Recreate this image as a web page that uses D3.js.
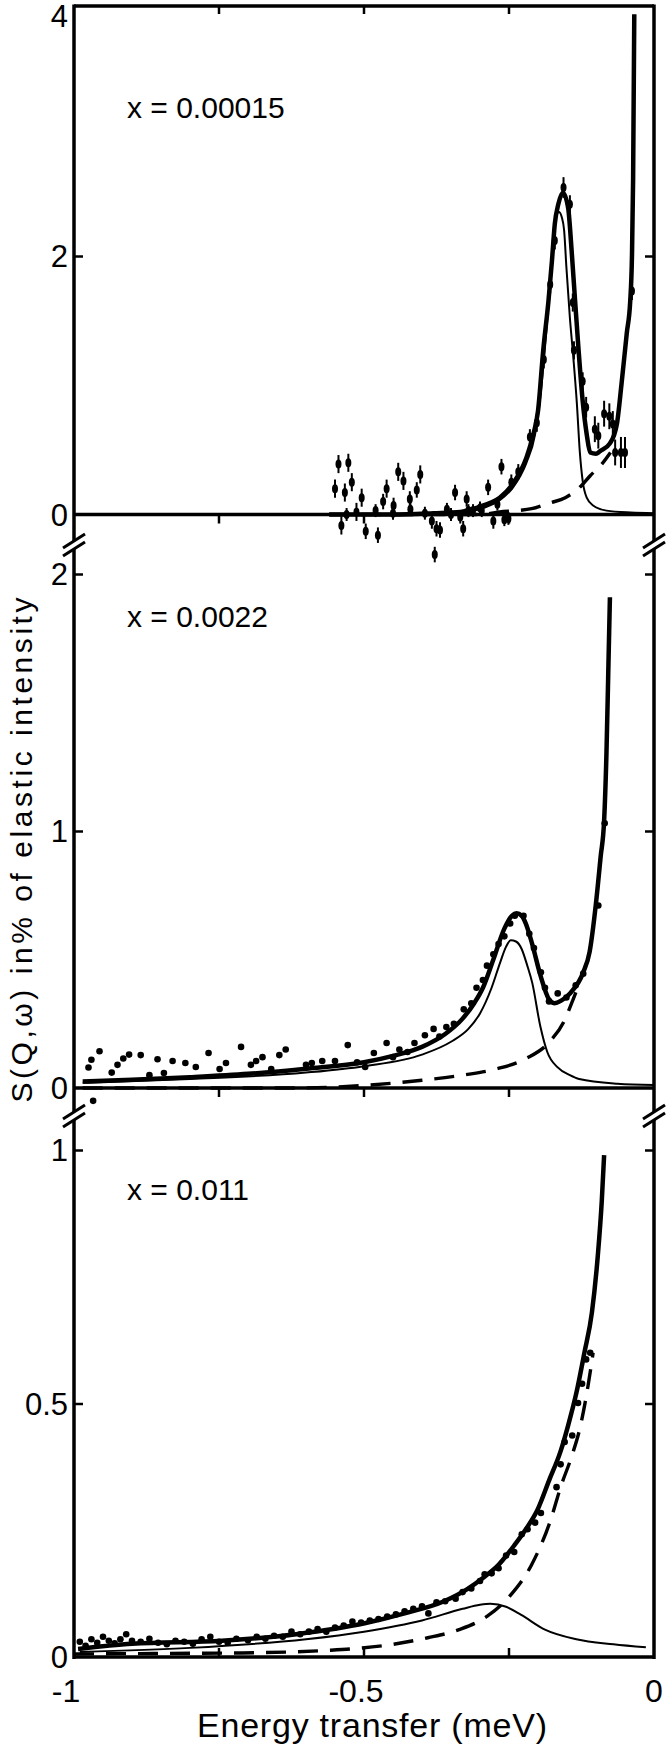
<!DOCTYPE html>
<html>
<head>
<meta charset="utf-8">
<script src="https://cdn.jsdelivr.net/npm/d3@7"></script>
<style>
body { margin: 0; background: #fff; }
svg { display: block; }
text { font-family: "Liberation Sans", Arial, sans-serif; fill: #000; }
</style>
</head>
<body>
<script>
// energy axis (meV)
var xTicks = [-1, -0.5, 0];
var xTickLabels = ["-1", "-0.5", "0"];
var xMinorTicks = [-0.75, -0.5, -0.25];

var panelLabels = ["x = 0.00015", "x = 0.0022", "x = 0.011"];
var yTicks1 = [0, 2, 4];
var yTicks2 = [0, 1, 2];
var yTicks3 = [0, 0.5, 1];

// x = 0.00015 : total fit, inelastic peak, quasielastic, data [E, S, err]
var fit1 = [[-0.56,0],[-0.45,0],[-0.38,0.01],[-0.334,0.02],[-0.294,0.07],[-0.266,0.13],[-0.243,0.24],
  [-0.22,0.44],[-0.208,0.62],[-0.2,0.8],[-0.191,1.27],[-0.182,1.65],[-0.176,1.96],[-0.171,2.25],
  [-0.165,2.4],[-0.157,2.49],[-0.148,2.37],[-0.142,2.04],[-0.136,1.65],[-0.13,1.27],[-0.123,0.88],
  [-0.116,0.62],[-0.11,0.48],[-0.1,0.47],[-0.093,0.49],[-0.076,0.55],[-0.064,0.7],[-0.056,1.01],
  [-0.047,1.4],[-0.041,1.65],[-0.038,2.0],[-0.036,2.6],[-0.034,3.87]];
var peak1 = [[-0.56,0],[-0.4,0],[-0.334,0.015],[-0.294,0.05],[-0.266,0.11],[-0.243,0.21],[-0.22,0.4],
  [-0.205,0.62],[-0.195,0.95],[-0.186,1.4],[-0.179,1.8],[-0.174,2.1],[-0.169,2.3],[-0.164,2.34],
  [-0.159,2.3],[-0.155,2.2],[-0.151,1.91],[-0.145,1.52],[-0.139,1.21],[-0.133,0.86],[-0.128,0.49],
  [-0.123,0.26],[-0.116,0.13],[-0.105,0.07],[-0.082,0.03],[-0.04,0.015],[0,0.01]];
var quasi1 = [[-0.56,0],[-0.3,0],[-0.266,0.02],[-0.237,0.03],[-0.211,0.045],[-0.179,0.09],
  [-0.153,0.13],[-0.128,0.21],[-0.11,0.3],[-0.09,0.39],[-0.075,0.48]];
var data1 = [[-0.55,0.2,0.07],[-0.544,0.39,0.07],[-0.539,-0.085,0.07],[-0.533,0.17,0.07],
  [-0.527,0.4,0.07],[-0.521,0.25,0.07],[-0.513,0.02,0.07],[-0.504,0.13,0.07],[-0.497,-0.13,0.06],
  [-0.476,-0.16,0.06],[-0.467,0.1,0.06],[-0.461,0.2,0.07],[-0.449,0.07,0.06],[-0.441,0.33,0.07],
  [-0.432,0.26,0.07],[-0.421,0.12,0.06],[-0.409,0.19,0.06],[-0.403,0.31,0.07],[-0.395,0.01,0.05],
  [-0.383,-0.05,0.06],[-0.378,-0.31,0.06],[-0.375,-0.11,0.06],[-0.369,-0.12,0.06],[-0.357,0.04,0.05],
  [-0.343,0.17,0.06],[-0.334,-0.02,0.05],[-0.329,-0.11,0.06],[-0.323,0.12,0.06],[-0.312,0.03,0.05],
  [-0.297,0.03,0.05],[-0.286,0.21,0.06],[-0.277,-0.05,0.06],[-0.263,0.37,0.06],[-0.258,-0.04,0.05],
  [-0.251,-0.03,0.05],[-0.246,0.25,0.06],[-0.234,0.33,0.06],[-0.214,0.6,0.06],[-0.202,0.71,0.07],
  [-0.19,1.2,0.07],[-0.179,1.78,0.07],[-0.171,2.12,0.07],[-0.156,2.53,0.08],[-0.145,2.4,0.07],
  [-0.14,1.64,0.07],[-0.138,1.27,0.07],[-0.123,1.03,0.07],[-0.117,0.83,0.08],[-0.102,0.66,0.1],
  [-0.096,0.61,0.1],[-0.086,0.78,0.1],[-0.077,0.76,0.1],[-0.071,0.7,0.1],[-0.067,0.48,0.1],
  [-0.057,0.48,0.12],[-0.05,0.48,0.12],[-0.038,1.73,0.07],
  [-0.53,0,0.05],[-0.48,0.03,0.05],[-0.45,0.01,0.05],[-0.42,0.04,0.05],[-0.35,0,0.05],
  [-0.32,0.03,0.05],[-0.3,0.05,0.05],[-0.27,0.08,0.05]];

// x = 0.0022
var fit2 = [[-0.985,0.025],[-0.9,0.032],[-0.8,0.042],[-0.7,0.055],[-0.6,0.075],[-0.5,0.1],
  [-0.45,0.125],[-0.4,0.16],[-0.36,0.21],[-0.33,0.27],[-0.31,0.33],[-0.295,0.39],[-0.277,0.5],
  [-0.258,0.62],[-0.245,0.67],[-0.237,0.68],[-0.228,0.67],[-0.221,0.64],[-0.21,0.56],[-0.196,0.44],
  [-0.181,0.345],[-0.172,0.33],[-0.16,0.34],[-0.144,0.37],[-0.122,0.45],[-0.111,0.53],[-0.1,0.72],
  [-0.092,0.9],[-0.086,1.04],[-0.082,1.3],[-0.079,1.6],[-0.076,1.91]];
var peak2 = [[-0.985,0.02],[-0.8,0.035],[-0.6,0.06],[-0.5,0.085],[-0.4,0.13],[-0.35,0.18],
  [-0.32,0.23],[-0.3,0.29],[-0.28,0.39],[-0.265,0.49],[-0.255,0.55],[-0.247,0.575],[-0.238,0.57],
  [-0.228,0.54],[-0.219,0.48],[-0.21,0.41],[-0.196,0.24],[-0.184,0.14],[-0.166,0.08],[-0.145,0.05],
  [-0.129,0.035],[-0.063,0.017],[0,0.012]];
var quasi2 = [[-0.985,0],[-0.62,0],[-0.5,0.01],[-0.4,0.03],[-0.33,0.05],[-0.27,0.075],[-0.22,0.115],
  [-0.18,0.18],[-0.155,0.26],[-0.142,0.33],[-0.13,0.4]];
var data2 = [[-0.967,-0.05],[-0.975,0.08],[-0.97,0.11],[-0.956,0.143],[-0.935,0.06],[-0.925,0.09],
  [-0.915,0.115],[-0.905,0.13],[-0.885,0.128],[-0.87,0.05],[-0.856,0.112],[-0.845,0.058],[-0.83,0.105],
  [-0.808,0.097],[-0.79,0.082],[-0.768,0.136],[-0.749,0.074],[-0.738,0.097],[-0.712,0.16],[-0.695,0.09],
  [-0.686,0.105],[-0.675,0.12],[-0.66,0.074],[-0.646,0.128],[-0.635,0.15],[-0.6,0.09],[-0.59,0.097],
  [-0.572,0.105],[-0.55,0.105],[-0.528,0.167],[-0.512,0.1],[-0.498,0.082],[-0.483,0.136],[-0.461,0.175],
  [-0.45,0.12],[-0.439,0.15],[-0.425,0.14],[-0.413,0.175],[-0.395,0.205],[-0.38,0.23],[-0.37,0.2],
  [-0.358,0.237],[-0.345,0.25],[-0.328,0.306],[-0.315,0.33],[-0.306,0.39],[-0.295,0.42],[-0.288,0.476],
  [-0.277,0.52],[-0.268,0.56],[-0.258,0.59],[-0.248,0.64],[-0.24,0.67],[-0.225,0.67],[-0.215,0.6],
  [-0.207,0.545],[-0.195,0.45],[-0.188,0.39],[-0.181,0.337],[-0.166,0.368],[-0.151,0.352],[-0.135,0.4],
  [-0.122,0.445],[-0.096,0.71],[-0.085,1.03]];

// x = 0.011
var fit3 = [[-0.993,0.016],[-0.9,0.026],[-0.745,0.032],[-0.617,0.045],[-0.497,0.067],[-0.43,0.086],
  [-0.362,0.11],[-0.322,0.134],[-0.295,0.156],[-0.268,0.182],[-0.241,0.22],[-0.221,0.252],
  [-0.201,0.29],[-0.181,0.348],[-0.161,0.406],[-0.148,0.457],[-0.134,0.52],[-0.12,0.6],
  [-0.107,0.68],[-0.097,0.79],[-0.09,0.9],[-0.086,0.99]];
var peak3 = [[-0.99,0.01],[-0.8,0.018],[-0.6,0.035],[-0.5,0.05],[-0.4,0.072],[-0.33,0.095],
  [-0.3,0.103],[-0.282,0.105],[-0.255,0.099],[-0.229,0.083],[-0.188,0.054],[-0.134,0.035],
  [-0.07,0.025],[-0.014,0.019]];
var quasi3 = [[-1,0.006],[-0.85,0.007],[-0.71,0.008],[-0.564,0.013],[-0.51,0.017],[-0.45,0.025],
  [-0.39,0.038],[-0.336,0.054],[-0.288,0.08],[-0.248,0.121],[-0.211,0.182],[-0.178,0.271],
  [-0.161,0.335],[-0.141,0.399],[-0.128,0.45],[-0.114,0.533],[-0.105,0.6]];
var data3 = [[-0.99,0.03],[-0.98,0.022],[-0.97,0.035],[-0.96,0.028],[-0.95,0.04],[-0.94,0.032],
  [-0.93,0.027],[-0.92,0.035],[-0.91,0.045],[-0.9,0.032],[-0.885,0.03],[-0.87,0.036],[-0.855,0.028],
  [-0.84,0.025],[-0.825,0.032],[-0.81,0.03],[-0.795,0.026],[-0.78,0.035],[-0.765,0.04],[-0.75,0.03],
  [-0.735,0.028],[-0.72,0.036],[-0.7,0.033],[-0.685,0.04],[-0.67,0.036],[-0.655,0.042],[-0.64,0.04],
  [-0.625,0.05],[-0.61,0.045],[-0.595,0.05],[-0.58,0.055],[-0.565,0.05],[-0.55,0.058],[-0.535,0.062],
  [-0.52,0.07],[-0.505,0.068],[-0.49,0.072],[-0.475,0.075],[-0.46,0.08],[-0.445,0.084],[-0.43,0.09],
  [-0.415,0.095],[-0.4,0.1],[-0.389,0.086],[-0.375,0.108],[-0.36,0.11],[-0.342,0.115],[-0.33,0.128],
  [-0.315,0.135],[-0.3,0.15],[-0.292,0.163],[-0.28,0.165],[-0.268,0.175],[-0.255,0.2],[-0.241,0.207],
  [-0.228,0.242],[-0.218,0.252],[-0.205,0.265],[-0.195,0.284],[-0.168,0.335],[-0.161,0.38],
  [-0.154,0.424],[-0.141,0.437],[-0.131,0.501],[-0.124,0.539],[-0.117,0.587],[-0.11,0.6]];

var W = 671, H = 1753;
var left = 74, right = 654, frameTop = 6;

var svg = d3.select("body").append("svg")
  .attr("width", W)
  .attr("height", H);

var x = d3.scaleLinear().domain([-1, 0]).range([left, right]);

var panels = [
  { fit: fit1, peak: peak1, quasi: quasi1, pts: data1, ticks: yTicks1, label: panelLabels[0],
    y: d3.scaleLinear().domain([0, 2]).range([514.5, 256]), labelY: 118, tickDir: 1 },
  { fit: fit2, peak: peak2, quasi: quasi2, pts: data2, ticks: yTicks2, label: panelLabels[1],
    y: d3.scaleLinear().domain([0, 2]).range([1088, 574]), labelY: 627, tickDir: 1 },
  { fit: fit3, peak: peak3, quasi: quasi3, pts: data3, ticks: yTicks3, label: panelLabels[2],
    y: d3.scaleLinear().domain([0, 1]).range([1657, 1150]), labelY: 1200, tickDir: -1 }
];
var breaks = [545, 1116];

// frame: two long verticals, top border
svg.append("line").attr("x1", left).attr("x2", left).attr("y1", frameTop - 1.5).attr("y2", 1659)
  .attr("stroke", "#000").attr("stroke-width", 3.5);
svg.append("line").attr("x1", right).attr("x2", right).attr("y1", frameTop - 1.5).attr("y2", 1659)
  .attr("stroke", "#000").attr("stroke-width", 3.5);
svg.append("line").attr("x1", left).attr("x2", right).attr("y1", frameTop).attr("y2", frameTop)
  .attr("stroke", "#000").attr("stroke-width", 3.5);

// ticks along the top border
svg.selectAll(".ttick").data(xMinorTicks).enter().append("line")
  .attr("x1", d => x(d)).attr("x2", d => x(d))
  .attr("y1", frameTop).attr("y2", frameTop + 8)
  .attr("stroke", "#000").attr("stroke-width", 2.5);

var lineGen = function(y) {
  return d3.line().x(d => x(d[0])).y(d => y(d[1])).curve(d3.curveMonotoneX);
};

panels.forEach(function(p) {
  var y = p.y;
  var g = svg.append("g");

  // baseline
  g.append("line").attr("x1", left).attr("x2", right).attr("y1", y(0)).attr("y2", y(0))
    .attr("stroke", "#000").attr("stroke-width", 3.5);

  // x ticks on baseline
  g.selectAll(".bt").data(xMinorTicks).enter().append("line")
    .attr("x1", d => x(d)).attr("x2", d => x(d))
    .attr("y1", y(0)).attr("y2", y(0) + 9 * p.tickDir)
    .attr("stroke", "#000").attr("stroke-width", 2.5);

  // y ticks inside, both sides
  var inner = p.ticks.filter(t => t !== 0 && t !== 4);
  g.append("g").attr("transform", "translate(" + left + ",0)")
    .call(d3.axisRight(y).tickValues(inner).tickSize(9).tickFormat(""))
    .call(s => s.select(".domain").remove())
    .call(s => s.selectAll("line").attr("stroke", "#000").attr("stroke-width", 2.5));
  g.append("g").attr("transform", "translate(" + right + ",0)")
    .call(d3.axisLeft(y).tickValues(inner).tickSize(9).tickFormat(""))
    .call(s => s.select(".domain").remove())
    .call(s => s.selectAll("line").attr("stroke", "#000").attr("stroke-width", 2.5));

  // y tick labels
  g.selectAll(".yl").data(p.ticks).enter().append("text")
    .attr("x", left - 6)
    .attr("y", d => Math.max(y(d), frameTop + 10))
    .attr("dy", "0.36em")
    .attr("text-anchor", "end")
    .style("font-size", "31px")
    .text(d => d === 0.5 ? "0.5" : String(d));

  // curves
  g.append("path").datum(p.quasi).attr("d", lineGen(y))
    .attr("fill", "none").attr("stroke", "#000").attr("stroke-width", 3.4)
    .attr("stroke-dasharray", "20,12");
  g.append("path").datum(p.peak).attr("d", lineGen(y))
    .attr("fill", "none").attr("stroke", "#000").attr("stroke-width", 2);
  g.append("path").datum(p.fit).attr("d", lineGen(y))
    .attr("fill", "none").attr("stroke", "#000").attr("stroke-width", 4.5)
    .attr("stroke-linejoin", "round");

  // data points
  g.selectAll(".eb").data(p.pts.filter(d => d.length > 2)).enter().append("line")
    .attr("x1", d => x(d[0])).attr("x2", d => x(d[0]))
    .attr("y1", d => y(d[1] - d[2])).attr("y2", d => y(d[1] + d[2]))
    .attr("stroke", "#000").attr("stroke-width", 2);
  g.selectAll(".pt").data(p.pts).enter().append("ellipse")
    .attr("cx", d => x(d[0])).attr("cy", d => y(d[1]))
    .attr("rx", d => d.length > 2 ? 3 : 3.3)
    .attr("ry", d => d.length > 2 ? 4.5 : 3.3)
    .attr("fill", "#000");

  // concentration label
  g.append("text").attr("x", 127).attr("y", p.labelY)
    .style("font-size", "30px")
    .text(p.label);
});

// axis breaks
breaks.forEach(function(cy) {
  [left, right].forEach(function(cx) {
    svg.append("rect").attr("x", cx - 4).attr("y", cy - 4).attr("width", 8).attr("height", 8)
      .attr("fill", "#fff");
    [-4, 4].forEach(function(o) {
      svg.append("line")
        .attr("x1", cx - 11).attr("y1", cy + 7 + o)
        .attr("x2", cx + 11).attr("y2", cy - 7 + o)
        .attr("stroke", "#000").attr("stroke-width", 3);
    });
  });
});

// x tick labels
svg.selectAll(".xl").data(xTicks).enter().append("text")
  .attr("x", (d, i) => x(d) - (xTickLabels[i][0] === "-" ? 8 : 0))
  .attr("y", 1702)
  .attr("text-anchor", "middle")
  .style("font-size", "32px")
  .text((d, i) => xTickLabels[i]);

// axis titles
svg.append("text")
  .attr("x", 372).attr("y", 1737)
  .attr("text-anchor", "middle")
  .style("font-size", "34px")
  .attr("textLength", 350)
  .text("Energy transfer  (meV)");

svg.append("text")
  .attr("transform", "translate(32,850) rotate(-90)")
  .attr("text-anchor", "middle")
  .style("font-size", "30px")
  .attr("textLength", 505)
  .attr("lengthAdjust", "spacing")
  .text("S(Q,ω) in% of elastic intensity");
</script>
</body>
</html>
